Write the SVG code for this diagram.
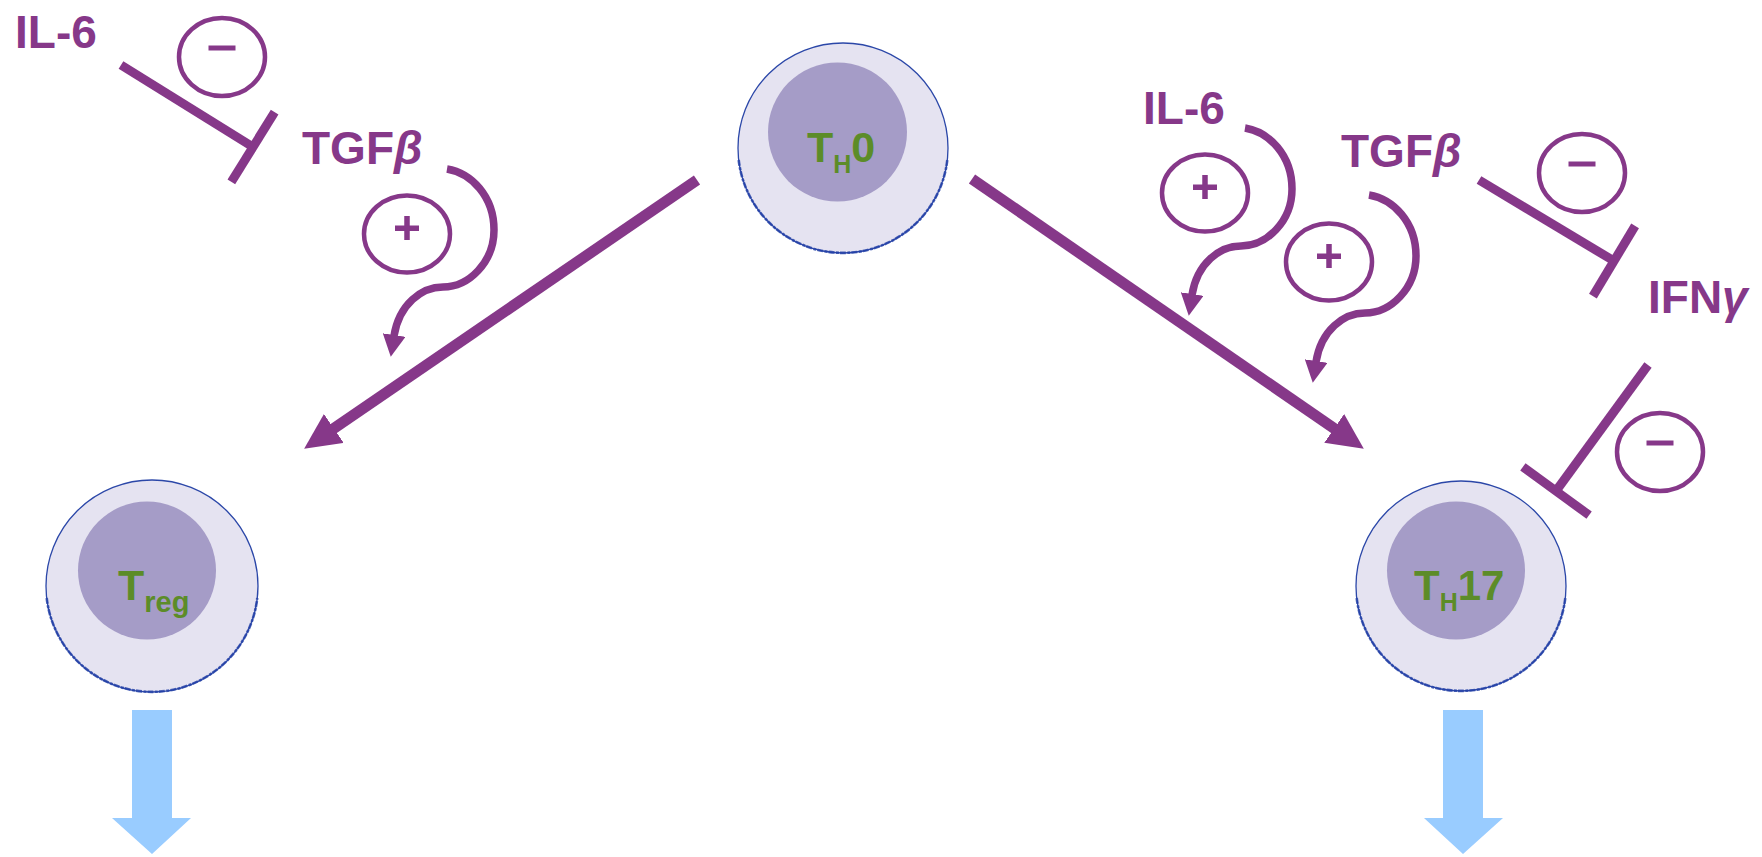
<svg xmlns="http://www.w3.org/2000/svg" width="1762" height="857" viewBox="0 0 1762 857">
  <style>
    .lbl { font-family: "Liberation Sans", Arial, sans-serif; font-weight: bold; fill: #863889; font-size: 46px; }
    .greek { font-style: italic; }
    .cell-name { font-family: "Liberation Sans", Arial, sans-serif; font-weight: bold; fill: #5C8C28; }
    .membrane { fill: #E5E3F1; stroke: #2B47A8; stroke-width: 1.3; }
    .membrane-shade { fill: none; stroke: #2340A6; stroke-width: 2.6; stroke-dasharray: 6 1.5 3 1; opacity: 0.8; }
    .nucleus { fill: #A59CC7; }
    .sign { fill: none; stroke: #863889; stroke-width: 4.5; }
    .sign-mark { fill: #863889; }
    .main { fill: none; stroke: #863889; stroke-width: 11; marker-end: url(#bigHead); }
    .assist { fill: none; stroke: #863889; stroke-width: 7.5; marker-end: url(#smallHead); }
    .block { fill: none; stroke: #863889; stroke-width: 9; marker-end: url(#tee); }
    .out { fill: #99CCFF; }
  </style>
  <defs>
    <marker id="bigHead" viewBox="0 0 36 35" markerWidth="36" markerHeight="35" refX="1" refY="17.5" orient="auto" markerUnits="userSpaceOnUse">
      <polygon points="0,0 36,17.5 0,35" fill="#863889"/>
    </marker>
    <marker id="smallHead" viewBox="0 0 22 23" markerWidth="22" markerHeight="23" refX="1" refY="11.5" orient="auto" markerUnits="userSpaceOnUse">
      <polygon points="0,0 22,11.5 0,23" fill="#863889"/>
    </marker>
    <marker id="tee" viewBox="-5 -42 10 84" markerWidth="10" markerHeight="84" refX="0" refY="0" orient="auto" markerUnits="userSpaceOnUse">
      <rect x="-4.5" y="-41" width="9" height="82" fill="#863889"/>
    </marker>
    <!-- hooked arrow from a cytokine label down onto a differentiation arrow -->
    <path id="hook" d="M0,0 C24,4 47,27 47,61 C47,93 22,118 -4,118 C-25,118 -48,135 -53,167"/>
    <symbol id="minus" overflow="visible">
      <ellipse class="sign" cx="0" cy="0" rx="43" ry="39"/>
      <rect class="sign-mark" x="-13.5" y="-11.5" width="27" height="5"/>
    </symbol>
    <symbol id="plus" overflow="visible">
      <ellipse class="sign" cx="0" cy="0" rx="43" ry="38.5"/>
      <rect class="sign-mark" x="-12" y="-8.5" width="24" height="5.5"/>
      <rect class="sign-mark" x="-2.75" y="-18" width="5.5" height="24"/>
    </symbol>
  </defs>

  <!-- naive T cell -->
  <g id="th0">
    <circle class="membrane" cx="843" cy="148" r="105"/>
    <path class="membrane-shade" d="M738.7,160 A105,105 0 0 0 947.3,160"/>
    <circle class="nucleus" cx="837.5" cy="132" r="69.5"/>
    <text class="cell-name" x="807" y="162" font-size="43">T<tspan font-size="25" dy="11">H</tspan><tspan dy="-11">0</tspan></text>
  </g>

  <!-- regulatory T cell -->
  <g id="treg">
    <circle class="membrane" cx="152" cy="586" r="106"/>
    <path class="membrane-shade" d="M46.7,598 A106,106 0 0 0 257.3,598"/>
    <circle class="nucleus" cx="147" cy="570.5" r="69"/>
    <text class="cell-name" x="118" y="600" font-size="43">T<tspan font-size="29" dy="12">reg</tspan></text>
  </g>

  <!-- Th17 cell -->
  <g id="th17">
    <circle class="membrane" cx="1461" cy="586" r="105"/>
    <path class="membrane-shade" d="M1356.7,598 A105,105 0 0 0 1565.3,598"/>
    <circle class="nucleus" cx="1456" cy="570.5" r="69"/>
    <text class="cell-name" x="1414" y="600" font-size="42">T<tspan font-size="25" dy="11">H</tspan><tspan dy="-11">17</tspan></text>
  </g>

  <!-- cytokine labels -->
  <g id="il6-left"><text class="lbl" x="15" y="48">IL-6</text></g>
  <g id="tgfb-left"><text class="lbl" x="302" y="164">TGF<tspan class="greek">β</tspan></text></g>
  <g id="il6-right"><text class="lbl" x="1143" y="124">IL-6</text></g>
  <g id="tgfb-right"><text class="lbl" x="1341" y="167">TGF<tspan class="greek">β</tspan></text></g>
  <g id="ifng"><text class="lbl" x="1648" y="313">IFN<tspan class="greek">γ</tspan></text></g>

  <!-- effect signs -->
  <g id="sign-il6-tgfb"><use href="#minus" x="222" y="57"/></g>
  <g id="sign-tgfb-treg"><use href="#plus" x="407" y="234"/></g>
  <g id="sign-il6-th17"><use href="#plus" x="1205" y="193"/></g>
  <g id="sign-tgfb-th17"><use href="#plus" x="1329" y="262"/></g>
  <g id="sign-tgfb-ifng"><use href="#minus" x="1582" y="173"/></g>
  <g id="sign-ifng-th17"><use href="#minus" x="1660" y="452"/></g>

  <!-- connectors -->
  <g id="connectors">
    <!-- differentiation arrows -->
    <path class="main" d="M697,180 L333,429"/>
    <path class="main" d="M972,179 L1335,429"/>
    <!-- promoting cytokines -->
    <use href="#hook" class="assist" x="447" y="169"/>
    <use href="#hook" class="assist" x="1245" y="128"/>
    <use href="#hook" class="assist" x="1369" y="195"/>
    <!-- inhibitions -->
    <path class="block" d="M121,65 L253,147"/>
    <path class="block" d="M1479,180 L1614,261"/>
    <path class="block" d="M1648,365 L1556,491"/>
    <!-- downstream outputs -->
    <polygon class="out" points="132,710 172,710 172,818 191,818 152,854 112,818 132,818"/>
    <polygon class="out" points="1443,710 1483,710 1483,818 1503,818 1463,854 1424,818 1443,818"/>
  </g>
</svg>
